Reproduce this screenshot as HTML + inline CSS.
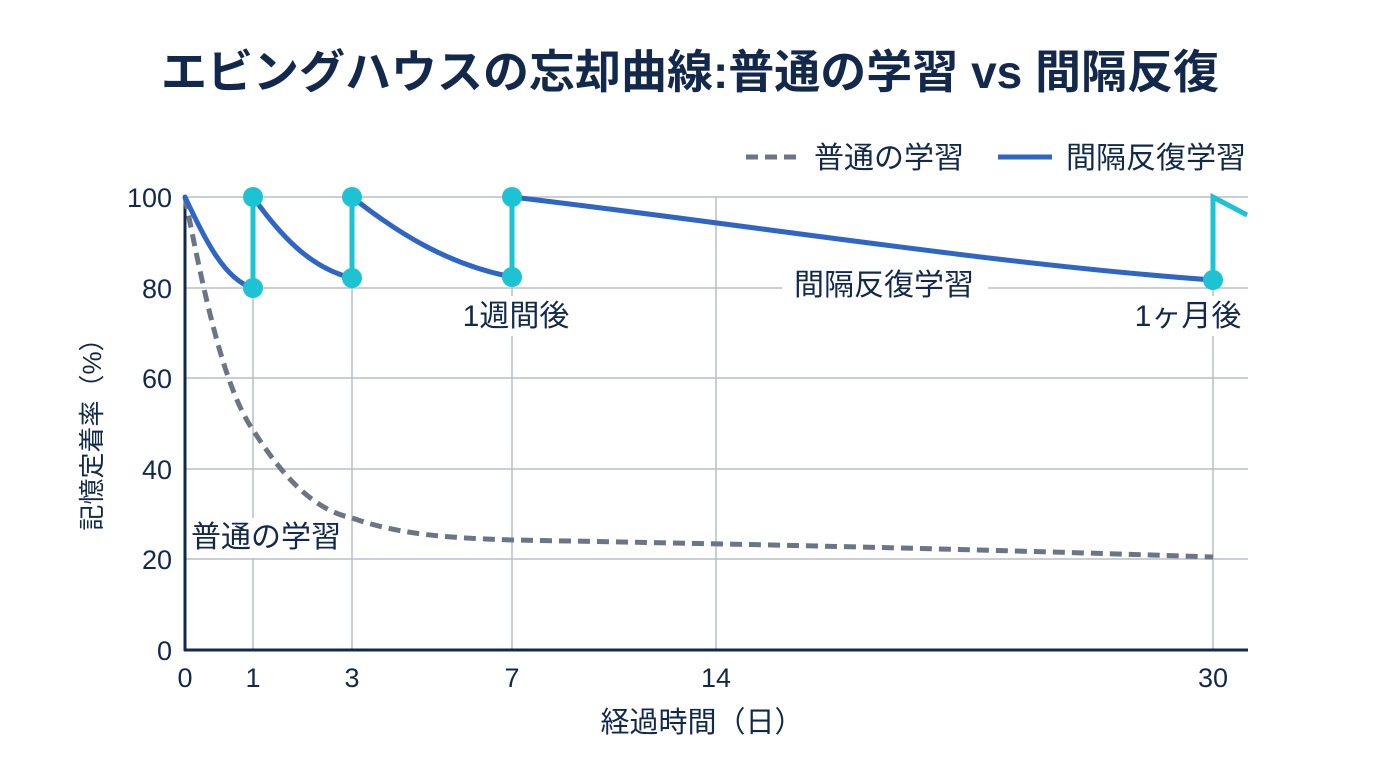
<!DOCTYPE html>
<html><head><meta charset="utf-8"><style>
body{margin:0;background:#fff;}
svg text{font-family:"Liberation Sans","Noto Sans CJK JP",sans-serif;}
</style></head><body>
<svg width="1376" height="768" viewBox="0 0 1376 768" xmlns="http://www.w3.org/2000/svg">
<text x="690" y="88" text-anchor="middle" font-size="46" font-weight="bold" fill="#13294b">エビングハウスの忘却曲線:普通の学習 vs 間隔反復</text>
<!-- legend -->
<line x1="746" y1="157" x2="800" y2="157" stroke="#6b7585" stroke-width="5" stroke-dasharray="12,7"/>
<text x="814" y="168" font-size="30" fill="#13294b">普通の学習</text>
<line x1="998" y1="157" x2="1052" y2="157" stroke="#2f66c4" stroke-width="5"/>
<text x="1066" y="168" font-size="30" fill="#13294b">間隔反復学習</text>
<!-- grid -->
<g stroke="#b8bfc9" stroke-width="1.5">
<line x1="185" y1="197" x2="1248" y2="197"/>
<line x1="185" y1="288" x2="1248" y2="288"/>
<line x1="185" y1="378" x2="1248" y2="378"/>
<line x1="185" y1="469" x2="1248" y2="469"/>
<line x1="185" y1="559" x2="1248" y2="559"/>
<line x1="253" y1="197" x2="253" y2="650"/>
<line x1="352" y1="197" x2="352" y2="650"/>
<line x1="512" y1="197" x2="512" y2="650"/>
<line x1="716" y1="197" x2="716" y2="650"/>
<line x1="1213" y1="197" x2="1213" y2="650"/>
</g>
<!-- label backgrounds -->
<rect x="450" y="296" width="130" height="40" fill="#fff"/>
<rect x="782" y="266" width="206" height="38" fill="#fff"/>
<rect x="1126" y="296" width="124" height="40" fill="#fff"/>
<rect x="188" y="518" width="156" height="40" fill="#fff"/>
<!-- axes -->
<line x1="185" y1="195" x2="185" y2="651" stroke="#13294b" stroke-width="3"/>
<line x1="184" y1="650" x2="1248" y2="650" stroke="#13294b" stroke-width="3"/>
<!-- y ticks -->
<g font-size="27" fill="#13294b" text-anchor="end">
<text x="172" y="207">100</text><text x="172" y="298">80</text><text x="172" y="388">60</text>
<text x="172" y="479">40</text><text x="172" y="569">20</text><text x="172" y="660">0</text>
</g>
<g font-size="27" fill="#13294b" text-anchor="middle">
<text x="185" y="687">0</text><text x="253" y="687">1</text><text x="352" y="687">3</text>
<text x="512" y="687">7</text><text x="716" y="687">14</text><text x="1213" y="687">30</text>
<text x="702" y="732" font-size="29">経過時間（日）</text>
</g>
<text transform="translate(101,428) rotate(-90)" text-anchor="middle" font-size="26" fill="#13294b">記憶定着率（%）</text>
<!-- dashed -->
<path d="M185,197 C205,300 225,390 253,430 C285,480 315,510 352,518 C400,535 450,538 512,540 C800,545 1000,550 1213,557" fill="none" stroke="#6b7585" stroke-width="5" stroke-dasharray="12,7"/>
<!-- blue -->
<g fill="none" stroke="#2f66c4" stroke-width="5" stroke-linecap="round">
<path d="M185,197 C205,240 225,280 253,288"/>
<path d="M253,197 C280,235 310,268 352,278"/>
<path d="M352,197 C400,235 450,265 512,277"/>
<path d="M512,197 C750,225 1000,265 1213,280"/>
</g>
<g stroke="#1ec3d3" stroke-width="5" fill="none">
<line x1="253" y1="197" x2="253" y2="288"/>
<line x1="352" y1="197" x2="352" y2="278"/>
<line x1="512" y1="197" x2="512" y2="277"/>
<polyline points="1213,280 1213,197 1247,215"/>
</g>
<g fill="#1ec3d3">
<circle cx="253" cy="197" r="10"/><circle cx="253" cy="288" r="10"/>
<circle cx="352" cy="197" r="10"/><circle cx="352" cy="278" r="10"/>
<circle cx="512" cy="197" r="10"/><circle cx="512" cy="277" r="10"/>
<circle cx="1213" cy="280" r="10"/>
</g>
<g font-size="30" fill="#13294b" text-anchor="middle">
<text x="516" y="326">1週間後</text>
<text x="884" y="295">間隔反復学習</text>
<text x="1188" y="326">1ヶ月後</text>
<text x="266" y="547">普通の学習</text>
</g>
</svg>
</body></html>
